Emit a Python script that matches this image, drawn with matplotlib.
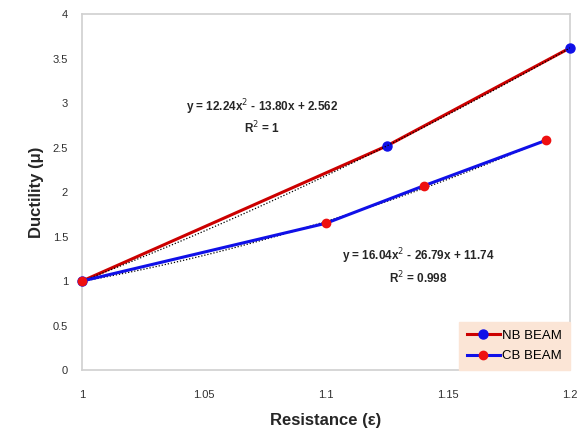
#!/usr/bin/env python
# Ductility vs resistance for NB and CB beams, with quadratic trendlines

import numpy as np
from matplotlib import pyplot as plt

plt.rcParams['font.family'] = ['Liberation Sans', 'DejaVu Sans']

# data
nb_x = [1.0, 1.125, 1.2]
nb_y = [1.0, 2.52, 3.62]
cb_x = [1.0, 1.1, 1.14, 1.19]
cb_y = [1.0, 1.65, 2.07, 2.58]

nb_eq = ['y = 12.24x$^2$ - 13.80x + 2.562', 'R$^2$ = 1']
cb_eq = ['y = 16.04x$^2$ - 26.79x + 11.74', 'R$^2$ = 0.998']

xticks = [1, 1.05, 1.1, 1.15, 1.2]
xticklabels = ['1', '1.05', '1.1', '1.15', '1.2']
yticks = [0, 0.5, 1, 1.5, 2, 2.5, 3, 3.5, 4]
yticklabels = ['0', '0.5', '1', '1.5', '2', '2.5', '3', '3.5', '4']


def main():
    fig = plt.figure(figsize=(5.8, 4.38), dpi=100)
    ax = fig.add_axes([0.1414, 0.155, 0.8416, 0.813])

    ax.plot(nb_x, nb_y, '-o', color='#cc0000', lw=2.2, ms=6.5,
            mfc='#1010e8', mec='#1010e8', label='NB BEAM', zorder=3,
            clip_on=False)
    ax.plot(cb_x, cb_y, '-o', color='#1010e8', lw=2.2, ms=6,
            mfc='#ee1010', mec='#ee1010', label='CB BEAM', zorder=5,
            clip_on=False)

    # polynomial trendlines (dotted black)
    for xs, ys in [(nb_x, nb_y), (cb_x, cb_y)]:
        coef = np.polyfit(xs, ys, 2)
        xf = np.linspace(xs[0], xs[-1], 100)
        ax.plot(xf, np.polyval(coef, xf), color='black', lw=0.9,
                ls=(0, (1, 1.5)), zorder=4)

    txt = dict(ha='center', va='center', fontsize=8.5, fontweight='bold',
               color='#262626')
    ax.text(1.0738, 2.955, nb_eq[0], **txt)
    ax.text(1.0738, 2.72, nb_eq[1], **txt)
    ax.text(1.1377, 1.28, cb_eq[0], **txt)
    ax.text(1.1377, 1.03, cb_eq[1], **txt)

    ax.set_xlim(1, 1.2)
    ax.set_ylim(0, 4)
    ax.set_xticks(xticks)
    ax.set_xticklabels(xticklabels)
    ax.set_yticks(yticks)
    ax.set_yticklabels(yticklabels)
    ax.tick_params(length=0, labelsize=8, colors='#303030', pad=10)
    ax.tick_params(axis='x', pad=14)
    for s in ax.spines.values():
        s.set_color('#d0d0d0')
        s.set_linewidth(1.2)

    ax.set_xlabel('Resistance (\u03b5)', fontsize=12, fontweight='bold',
                  color='#262626', labelpad=10)
    ax.set_ylabel('Ductility (\u03bc)', fontsize=12, fontweight='bold',
                  color='#262626', labelpad=6)

    leg = ax.legend(loc='lower right', bbox_to_anchor=(1.0, 0.0),
                    fontsize=9.5, frameon=True, fancybox=False,
                    borderaxespad=0.0, handlelength=2.5, handletextpad=0.2,
                    labelspacing=0.6, borderpad=0.6)
    leg.get_frame().set_facecolor('#fbe5d6')
    leg.get_frame().set_edgecolor('#fbe5d6')
    leg.get_frame().set_alpha(1)
    leg.set_zorder(6)

    plt.savefig('out.png', dpi=100)


if __name__ == "__main__":
    main()
